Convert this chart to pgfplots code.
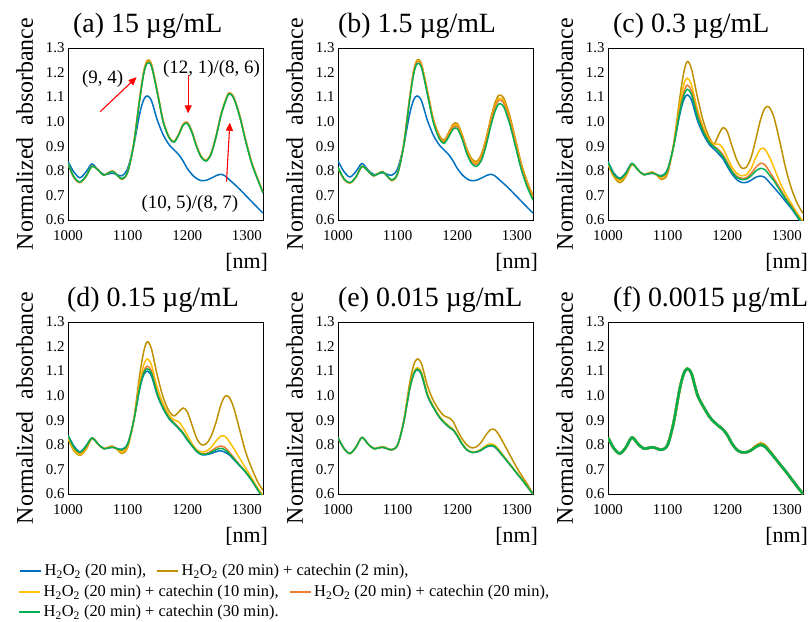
\documentclass[border=0pt]{standalone}
\usepackage{fontspec}
\setmainfont{Liberation Serif}
\usepackage{pgfplots}
\usepackage{pgfplotstable}
\pgfplotsset{compat=1.18}
\usetikzlibrary{arrows.meta}

\definecolor{cblue}{HTML}{0070C0}
\definecolor{cgold}{HTML}{BF9000}
\definecolor{cyel}{HTML}{FFC000}
\definecolor{corg}{HTML}{ED7D31}
\definecolor{cgrn}{HTML}{00B050}

% columns: blue = H2O2, gd/yl/or/gn = + catechin 2/10/20/30 min
\pgfplotstableread{
x b gd yl or gn
1000 0.838 0.828 0.830 0.830 0.830
1010 0.795 0.772 0.774 0.774 0.775
1020 0.772 0.752 0.754 0.754 0.755
1030 0.795 0.776 0.777 0.777 0.778
1040 0.828 0.818 0.818 0.818 0.818
1050 0.805 0.805 0.805 0.805 0.805
1060 0.785 0.783 0.783 0.783 0.783
1075 0.790 0.799 0.798 0.798 0.797
1090 0.780 0.766 0.767 0.767 0.768
1100 0.810 0.795 0.795 0.795 0.795
1110 0.900 0.908 0.906 0.906 0.905
1120 1.030 1.092 1.090 1.088 1.085
1127 1.090 1.205 1.200 1.198 1.195
1133 1.105 1.250 1.244 1.242 1.238
1140 1.085 1.235 1.230 1.228 1.225
1150 1.005 1.122 1.118 1.117 1.115
1160 0.945 1.000 0.998 0.997 0.995
1170 0.905 0.936 0.935 0.934 0.933
1178 0.885 0.920 0.919 0.918 0.917
1186 0.865 0.952 0.950 0.949 0.948
1193 0.840 0.990 0.988 0.987 0.985
1200 0.810 0.998 0.996 0.995 0.993
1208 0.785 0.960 0.958 0.957 0.955
1216 0.768 0.900 0.898 0.897 0.895
1224 0.760 0.857 0.855 0.854 0.853
1232 0.762 0.844 0.842 0.841 0.840
1240 0.770 0.872 0.870 0.869 0.868
1248 0.780 0.940 0.938 0.937 0.935
1256 0.786 1.025 1.023 1.022 1.020
1263 0.780 1.080 1.078 1.077 1.075
1270 0.765 1.118 1.116 1.115 1.113
1278 0.748 1.100 1.098 1.097 1.095
1288 0.725 1.025 1.023 1.022 1.020
1298 0.700 0.925 0.923 0.922 0.920
1308 0.675 0.835 0.833 0.832 0.830
1318 0.650 0.769 0.767 0.766 0.765
1327 0.628 0.713 0.712 0.711 0.710
}\tabA

\pgfplotstableread{
x b gd yl or gn
1000 0.840 0.812 0.813 0.814 0.815
1010 0.797 0.765 0.766 0.767 0.768
1020 0.775 0.750 0.751 0.751 0.752
1030 0.797 0.773 0.774 0.774 0.775
1040 0.830 0.818 0.818 0.818 0.818
1050 0.805 0.800 0.800 0.800 0.800
1060 0.785 0.780 0.780 0.780 0.780
1075 0.792 0.797 0.796 0.796 0.795
1090 0.782 0.760 0.761 0.762 0.763
1100 0.810 0.790 0.790 0.790 0.790
1110 0.900 0.905 0.903 0.902 0.900
1120 1.030 1.095 1.092 1.090 1.085
1127 1.090 1.210 1.205 1.202 1.195
1133 1.105 1.252 1.248 1.245 1.237
1140 1.085 1.235 1.230 1.227 1.220
1150 1.005 1.125 1.120 1.117 1.110
1160 0.945 1.010 1.005 1.002 0.995
1170 0.905 0.945 0.940 0.937 0.930
1178 0.885 0.925 0.920 0.917 0.912
1186 0.865 0.958 0.952 0.948 0.940
1193 0.840 0.990 0.983 0.978 0.970
1200 0.810 0.993 0.986 0.980 0.972
1208 0.785 0.950 0.943 0.938 0.930
1216 0.768 0.890 0.883 0.878 0.870
1224 0.760 0.850 0.843 0.838 0.830
1232 0.762 0.838 0.831 0.826 0.818
1240 0.770 0.865 0.856 0.850 0.840
1248 0.780 0.930 0.920 0.913 0.900
1256 0.786 1.013 1.002 0.995 0.980
1263 0.780 1.075 1.063 1.055 1.040
1270 0.765 1.108 1.096 1.088 1.073
1278 0.748 1.095 1.083 1.075 1.060
1288 0.725 1.025 1.013 1.005 0.990
1298 0.700 0.925 0.915 0.908 0.895
1308 0.675 0.825 0.816 0.810 0.800
1318 0.650 0.752 0.745 0.740 0.730
1327 0.628 0.700 0.695 0.690 0.681
}\tabB

\pgfplotstableread{
x b gd yl or gn
1000 0.838 0.825 0.828 0.832 0.835
1010 0.790 0.775 0.778 0.782 0.785
1020 0.770 0.752 0.760 0.765 0.768
1030 0.793 0.778 0.783 0.788 0.790
1040 0.830 0.825 0.828 0.830 0.830
1050 0.805 0.805 0.805 0.805 0.805
1060 0.785 0.785 0.785 0.785 0.785
1075 0.790 0.795 0.793 0.792 0.791
1090 0.780 0.765 0.772 0.776 0.778
1100 0.807 0.790 0.800 0.803 0.805
1110 0.900 0.910 0.900 0.900 0.900
1120 1.025 1.090 1.065 1.045 1.035
1127 1.090 1.200 1.150 1.120 1.105
1133 1.109 1.245 1.177 1.149 1.132
1140 1.088 1.215 1.150 1.125 1.110
1150 1.005 1.100 1.050 1.035 1.020
1160 0.948 1.000 0.975 0.965 0.958
1170 0.907 0.935 0.925 0.920 0.915
1178 0.888 0.910 0.908 0.900 0.897
1186 0.868 0.950 0.909 0.885 0.878
1193 0.848 0.976 0.890 0.865 0.857
1200 0.818 0.960 0.855 0.835 0.828
1208 0.787 0.900 0.815 0.800 0.795
1216 0.764 0.845 0.790 0.778 0.773
1224 0.753 0.812 0.780 0.770 0.765
1232 0.753 0.815 0.785 0.772 0.766
1240 0.762 0.855 0.810 0.790 0.780
1248 0.774 0.930 0.855 0.815 0.800
1256 0.779 1.010 0.890 0.831 0.810
1263 0.773 1.055 0.888 0.825 0.805
1270 0.755 1.060 0.860 0.800 0.785
1278 0.733 1.020 0.815 0.770 0.760
1288 0.705 0.920 0.755 0.730 0.722
1298 0.675 0.810 0.705 0.690 0.685
1308 0.645 0.725 0.665 0.655 0.650
1318 0.610 0.665 0.625 0.618 0.614
1327 0.578 0.627 0.595 0.585 0.582
}\tabC

\pgfplotstableread{
x b gd yl or gn
1000 0.840 0.825 0.830 0.835 0.838
1010 0.795 0.775 0.780 0.787 0.790
1020 0.772 0.757 0.760 0.766 0.770
1030 0.795 0.780 0.785 0.790 0.793
1040 0.828 0.825 0.828 0.828 0.828
1050 0.805 0.805 0.805 0.805 0.805
1060 0.785 0.785 0.785 0.785 0.785
1075 0.790 0.795 0.793 0.791 0.790
1090 0.782 0.765 0.770 0.777 0.780
1100 0.805 0.790 0.795 0.800 0.803
1110 0.895 0.900 0.895 0.895 0.895
1120 1.025 1.080 1.050 1.035 1.030
1127 1.085 1.180 1.125 1.100 1.092
1133 1.100 1.220 1.150 1.120 1.110
1140 1.080 1.190 1.125 1.100 1.090
1150 1.000 1.080 1.030 1.010 1.005
1160 0.945 0.990 0.965 0.952 0.948
1170 0.905 0.935 0.920 0.910 0.907
1178 0.885 0.918 0.902 0.890 0.887
1186 0.865 0.935 0.893 0.870 0.867
1193 0.845 0.950 0.870 0.850 0.847
1200 0.820 0.935 0.840 0.825 0.822
1208 0.795 0.880 0.805 0.798 0.797
1216 0.772 0.825 0.780 0.775 0.774
1224 0.760 0.800 0.771 0.763 0.762
1232 0.760 0.805 0.775 0.765 0.762
1240 0.765 0.835 0.790 0.775 0.770
1248 0.772 0.890 0.815 0.788 0.780
1256 0.776 0.960 0.835 0.795 0.786
1263 0.770 0.997 0.835 0.790 0.780
1270 0.760 0.995 0.815 0.772 0.765
1278 0.740 0.950 0.785 0.748 0.743
1288 0.715 0.860 0.745 0.718 0.716
1298 0.688 0.770 0.705 0.690 0.689
1308 0.655 0.705 0.665 0.657 0.656
1318 0.617 0.650 0.625 0.619 0.618
1327 0.585 0.615 0.595 0.587 0.586
}\tabD

\pgfplotstableread{
x b gd yl or gn
1000 0.830 0.830 0.830 0.830 0.830
1010 0.785 0.785 0.785 0.785 0.785
1020 0.765 0.765 0.765 0.765 0.765
1030 0.790 0.790 0.790 0.790 0.790
1040 0.830 0.830 0.830 0.830 0.830
1050 0.805 0.805 0.805 0.805 0.805
1060 0.785 0.785 0.785 0.785 0.785
1075 0.790 0.793 0.791 0.790 0.790
1090 0.780 0.780 0.780 0.780 0.780
1100 0.800 0.800 0.800 0.800 0.800
1110 0.890 0.895 0.892 0.890 0.890
1120 1.025 1.050 1.030 1.025 1.025
1127 1.088 1.125 1.095 1.090 1.090
1133 1.105 1.150 1.115 1.108 1.108
1140 1.085 1.130 1.095 1.088 1.088
1150 1.000 1.040 1.008 1.002 1.002
1160 0.952 0.980 0.957 0.953 0.953
1170 0.912 0.940 0.917 0.913 0.913
1178 0.890 0.918 0.895 0.891 0.891
1186 0.872 0.910 0.877 0.873 0.873
1193 0.860 0.895 0.864 0.861 0.861
1200 0.836 0.860 0.840 0.837 0.837
1208 0.803 0.825 0.806 0.804 0.804
1216 0.780 0.800 0.782 0.780 0.780
1224 0.770 0.788 0.772 0.770 0.770
1232 0.770 0.792 0.773 0.771 0.771
1240 0.778 0.810 0.782 0.779 0.779
1248 0.790 0.840 0.797 0.792 0.792
1256 0.796 0.862 0.804 0.798 0.798
1263 0.791 0.862 0.799 0.793 0.793
1270 0.773 0.840 0.780 0.775 0.775
1278 0.750 0.805 0.755 0.751 0.751
1288 0.720 0.760 0.723 0.721 0.721
1298 0.690 0.715 0.692 0.690 0.690
1308 0.660 0.675 0.661 0.660 0.660
1318 0.628 0.638 0.629 0.628 0.628
1327 0.600 0.600 0.600 0.600 0.600
}\tabE

\pgfplotstableread{
x b gd yl or gn
1000 0.830 0.830 0.830 0.830 0.830
1010 0.785 0.785 0.785 0.785 0.785
1020 0.765 0.765 0.765 0.765 0.765
1030 0.790 0.790 0.790 0.790 0.790
1040 0.830 0.830 0.830 0.830 0.830
1050 0.805 0.805 0.805 0.805 0.805
1060 0.785 0.785 0.785 0.785 0.785
1075 0.790 0.790 0.790 0.790 0.790
1090 0.780 0.780 0.780 0.780 0.780
1100 0.800 0.800 0.800 0.800 0.800
1110 0.890 0.890 0.890 0.890 0.890
1120 1.025 1.025 1.025 1.025 1.025
1127 1.090 1.090 1.090 1.090 1.090
1133 1.110 1.110 1.110 1.110 1.110
1140 1.090 1.090 1.090 1.090 1.090
1150 1.003 1.003 1.003 1.003 1.003
1160 0.955 0.955 0.955 0.955 0.955
1170 0.915 0.915 0.915 0.915 0.915
1178 0.893 0.893 0.893 0.893 0.893
1186 0.876 0.876 0.876 0.876 0.876
1193 0.862 0.862 0.862 0.862 0.862
1200 0.840 0.840 0.840 0.840 0.840
1208 0.805 0.805 0.805 0.805 0.805
1216 0.780 0.780 0.780 0.780 0.780
1224 0.770 0.770 0.770 0.770 0.770
1232 0.770 0.770 0.770 0.770 0.770
1240 0.778 0.779 0.778 0.778 0.778
1248 0.792 0.796 0.793 0.792 0.792
1256 0.800 0.806 0.801 0.800 0.800
1263 0.793 0.799 0.794 0.793 0.793
1270 0.775 0.779 0.775 0.775 0.775
1278 0.752 0.754 0.752 0.752 0.752
1288 0.722 0.722 0.722 0.722 0.722
1298 0.692 0.692 0.692 0.692 0.692
1308 0.660 0.660 0.660 0.660 0.660
1318 0.628 0.628 0.628 0.628 0.628
1327 0.600 0.600 0.600 0.600 0.600
}\tabF

\pgfplotsset{
  panel/.style={
    scale only axis, width=195bp, height=172bp,
    xmin=1000, xmax=1327, ymin=0.6, ymax=1.3,
    xtick={1000,1100,1200,1300},
    ytick={0.6,0.7,0.8,0.9,1.0,1.1,1.2,1.3},
    xticklabel style={/pgf/number format/set thousands separator={}, yshift=-7bp},
    yticklabel style={/pgf/number format/fixed, /pgf/number format/fixed zerofill, /pgf/number format/precision=1},
    /pgf/number format/assume math mode=true,
    tick label style={font=\fontsize{15}{17}\selectfont},
    major tick length=0pt,
    axis line style={line width=1bp},
    ylabel={Normalized\ \ absorbance},
    xlabel={[nm]},
    every axis x label/.style={at={(axis description cs:1.026,-0.192)}, anchor=north east, inner sep=0pt, font=\fontsize{22}{24}\selectfont},
    every axis y label/.style={at={(axis description cs:-0.178,0.5)}, anchor=south, rotate=90, inner sep=0pt, font=\fontsize{24}{26}\selectfont},
    title style={at={(axis description cs:0,1)}, anchor=base west, yshift=10bp, inner sep=0pt, font=\fontsize{28}{30}\selectfont},
    every axis plot/.append style={line width=1.5bp, smooth},
  },
  legrow/.style={
    hide axis, scale only axis, width=10bp, height=10bp,
    xmin=0, xmax=1, ymin=0, ymax=1,
    legend style={at={(0,0.5)}, anchor=west, draw=none, fill=none, inner sep=0pt,
      font=\fontsize{16.5}{18}\selectfont, legend columns=-1,
      /tikz/every even column/.append style={column sep=8bp}},
    legend image code/.code={\draw[#1, line width=2.5bp] (0bp,0bp) -- (21bp,0bp);},
  },
}

\newcommand{\hh}{H\textsubscript{2}O\textsubscript{2}}

\begin{document}
\begin{tikzpicture}
\useasboundingbox (0,0) rectangle (811bp,-622bp);

% (a)
\begin{axis}[panel, at={(68bp,-220bp)}, title={(a) 15 µg/mL}, title style={xshift=5bp}]
\addplot[cblue] table[x=x,y=b]{\tabA};
\addplot[cgold] table[x=x,y=gd]{\tabA};
\addplot[cyel] table[x=x,y=yl]{\tabA};
\addplot[corg] table[x=x,y=or]{\tabA};
\addplot[cgrn] table[x=x,y=gn]{\tabA};
\draw[red, line width=1.1bp, -{Triangle[length=8bp,width=7bp]}] (axis cs:1054,1.041) -- (axis cs:1115,1.181);
\draw[red, line width=1.1bp, -{Triangle[length=8bp,width=7bp]}] (axis cs:1201.5,1.190) -- (axis cs:1201.5,1.034);
\draw[red, line width=1.1bp, -{Triangle[length=8bp,width=7bp]}] (axis cs:1265.8,0.756) -- (axis cs:1271.4,0.996);
\node[font=\fontsize{19}{21}\selectfont] at (axis cs:1058,1.174) {(9, 4)};
\node[font=\fontsize{19}{21}\selectfont] at (axis cs:1240.6,1.215) {(12, 1)/(8, 6)};
\node[font=\fontsize{19}{21}\selectfont] at (axis cs:1204.4,0.665) {(10, 5)/(8, 7)};
\end{axis}

% (b)
\begin{axis}[panel, at={(338bp,-220bp)}, title={(b) 1.5 µg/mL}]
\addplot[cblue] table[x=x,y=b]{\tabB};
\addplot[cgold] table[x=x,y=gd]{\tabB};
\addplot[cyel] table[x=x,y=yl]{\tabB};
\addplot[corg] table[x=x,y=or]{\tabB};
\addplot[cgrn] table[x=x,y=gn]{\tabB};
\end{axis}

% (c)
\begin{axis}[panel, at={(608bp,-220bp)}, title={(c) 0.3 µg/mL}, title style={xshift=5bp}]
\addplot[cblue] table[x=x,y=b]{\tabC};
\addplot[cgold] table[x=x,y=gd]{\tabC};
\addplot[cyel] table[x=x,y=yl]{\tabC};
\addplot[corg] table[x=x,y=or]{\tabC};
\addplot[cgrn] table[x=x,y=gn]{\tabC};
\end{axis}

% (d)
\begin{axis}[panel, at={(68bp,-494bp)}, title={(d) 0.15 µg/mL}, title style={xshift=-1bp}]
\addplot[cblue] table[x=x,y=b]{\tabD};
\addplot[cgold] table[x=x,y=gd]{\tabD};
\addplot[cyel] table[x=x,y=yl]{\tabD};
\addplot[corg] table[x=x,y=or]{\tabD};
\addplot[cgrn] table[x=x,y=gn]{\tabD};
\end{axis}

% (e)
\begin{axis}[panel, at={(338bp,-494bp)}, title={(e) 0.015 µg/mL}]
\addplot[cblue] table[x=x,y=b]{\tabE};
\addplot[cgold] table[x=x,y=gd]{\tabE};
\addplot[cyel] table[x=x,y=yl]{\tabE};
\addplot[corg] table[x=x,y=or]{\tabE};
\addplot[cgrn] table[x=x,y=gn]{\tabE};
\end{axis}

% (f)
\begin{axis}[panel, at={(608bp,-494bp)}, title={(f) 0.0015 µg/mL}, title style={xshift=5bp},
  every axis plot/.append style={line width=2.5bp}]
\addplot[cblue] table[x=x,y=b]{\tabF};
\addplot[cgold] table[x=x,y=gd]{\tabF};
\addplot[cyel] table[x=x,y=yl]{\tabF};
\addplot[corg] table[x=x,y=or]{\tabF};
\addplot[cgrn] table[x=x,y=gn]{\tabF};
\end{axis}

% legend, three rows
\begin{axis}[legrow, at={(19bp,-576bp)}]
\addlegendimage{cblue}\addlegendentry{\hh{} (20 min),}
\addlegendimage{cgold}\addlegendentry{\hh{} (20 min) + catechin (2 min),}
\end{axis}
\begin{axis}[legrow, at={(18bp,-597bp)}]
\addlegendimage{cyel}\addlegendentry{\hh{} (20 min) + catechin (10 min),}
\addlegendimage{corg}\addlegendentry{\hh{} (20 min) + catechin (20 min),}
\end{axis}
\begin{axis}[legrow, at={(18bp,-617bp)}]
\addlegendimage{cgrn}\addlegendentry{\hh{} (20 min) + catechin (30 min).}
\end{axis}
\end{tikzpicture}
\end{document}
